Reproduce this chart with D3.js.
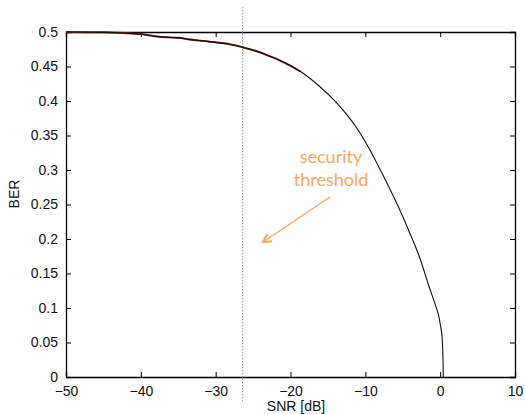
<!DOCTYPE html>
<html><head><meta charset="utf-8">
<script src="https://cdn.jsdelivr.net/npm/d3@7"></script>
<style>body{margin:0;background:#fff}svg{display:block}</style>
</head><body>
<script>
const snr = [-50,-45,-42.4,-40,-37.9,-35,-33.4,-30.8,-28,-26.4,-24.5,-22.7,-20.7,-18.7,-16.1,-13.8,-11.6,-10.0,-7.8,-5.6,-4.25,-2.8,-1.58,-0.25,0.07,0.2,0.34,0.42];
const ber = [0.5,0.4995,0.4985,0.497,0.4936,0.4915,0.489,0.486,0.482,0.478,0.472,0.4646,0.455,0.443,0.421,0.397,0.368,0.341,0.296,0.247,0.2135,0.175,0.134,0.091,0.073,0.064,0.04,0.0];
const redEnd = -18.5;
const xTicks = [-50,-40,-30,-20,-10,0,10];
const yTicks = [0,0.05,0.1,0.15,0.2,0.25,0.3,0.35,0.4,0.45,0.5];
const threshold = -26.4;
const annotation = ["security","threshold"];

(function(){
const W=525,H=414;
const m={l:66,r:10,t:32,b:37};
const svg=d3.select("body").append("svg").attr("width",W).attr("height",H);
const x=d3.scaleLinear().domain([-50,10]).range([m.l,W-m.r]);
const y=d3.scaleLinear().domain([0,0.5]).range([H-m.b,m.t]);
const font="Liberation Sans, Arial, Helvetica, sans-serif";

const g=svg.append("g");
const ax=(gen,tx,ty)=>g.append("g").attr("transform",`translate(${tx},${ty})`).call(gen);
const fmtY=d=>d===0?"0":String(+d.toFixed(2));
const fmtX=d=>d<0?"\u2212"+Math.abs(d):String(d);
const aB=ax(d3.axisBottom(x).tickValues(xTicks).tickSize(-5).tickPadding(9).tickFormat(fmtX),0,H-m.b);
const aT=ax(d3.axisTop(x).tickValues(xTicks).tickSize(-5).tickFormat(""),0,m.t);
const aL=ax(d3.axisLeft(y).tickValues(yTicks).tickSize(-5).tickPadding(8).tickFormat(fmtY),m.l,0);
const aR=ax(d3.axisRight(y).tickValues(yTicks).tickSize(-5).tickFormat(""),W-m.r,0);
[aB,aT,aL,aR].forEach(a=>{
  a.selectAll(".domain").attr("stroke","#000").attr("stroke-width",1.3);
  a.selectAll(".tick line").attr("stroke","#000");
  a.selectAll("text").attr("font-family",font).attr("font-size",14).attr("fill","#111");
});

svg.append("line").attr("x1",x(threshold)).attr("x2",x(threshold)).attr("y1",7).attr("y2",403)
  .attr("stroke","#999").attr("stroke-width",1).attr("stroke-dasharray","1.5,1.5");

const pts=snr.map((s,i)=>[s,ber[i]]);
const lineX=d3.line().x(d=>x(d[0])).y(d=>y(d[1])).curve(d3.curveCatmullRom);
svg.append("path").datum(pts.filter(d=>d[0]<=redEnd)).attr("d",lineX)
  .attr("fill","none").attr("stroke","#7a2818").attr("stroke-width",2);
svg.append("path").datum(pts).attr("d",lineX)
  .attr("fill","none").attr("stroke","#111").attr("stroke-width",1.1);

svg.append("text").attr("x",296).attr("y",411).attr("text-anchor","middle")
  .attr("font-family",font).attr("font-size",14).attr("fill","#111").text("SNR [dB]");
svg.append("text").attr("transform","translate(19,194) rotate(-90)").attr("text-anchor","middle")
  .attr("font-family",font).attr("font-size",14).attr("fill","#111").text("BER");

const orange="#f6a95e";
svg.append("text").attr("x",331).attr("y",163).attr("text-anchor","middle")
  .attr("font-family","Lato, Open Sans, sans-serif").attr("font-size",18).attr("fill",orange).text(annotation[0]);
svg.append("text").attr("x",331).attr("y",186).attr("text-anchor","middle")
  .attr("font-family","Lato, Open Sans, sans-serif").attr("font-size",18).attr("fill",orange).text(annotation[1]);
const ax1=330,ay1=197,ax2=263,ay2=242;
svg.append("line").attr("x1",ax1).attr("y1",ay1).attr("x2",ax2).attr("y2",ay2)
  .attr("stroke",orange).attr("stroke-width",1.5);
const ang=Math.atan2(ay1-ay2,ax1-ax2), L=9, spread=0.5;
svg.append("path").attr("d",`M${ax2+L*Math.cos(ang+spread)},${ay2+L*Math.sin(ang+spread)}L${ax2},${ay2}L${ax2+L*Math.cos(ang-spread)},${ay2+L*Math.sin(ang-spread)}`)
  .attr("fill","none").attr("stroke",orange).attr("stroke-width",2);
})();
</script>
</body></html>
